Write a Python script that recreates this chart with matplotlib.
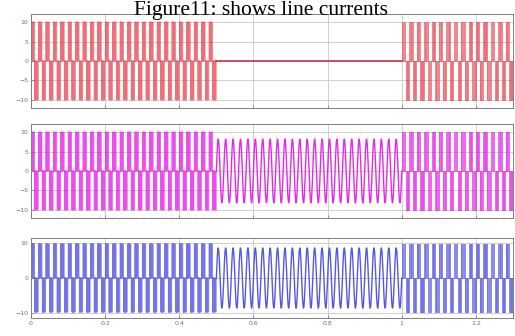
import numpy as np
import matplotlib.pyplot as plt

f0 = 50.0                      # supply frequency, Hz
T = 1.0 / f0
seg_edges = [0.0, 0.5, 1.0, 1.3]   # s, boundaries of the three operating intervals

# peak line current in each interval (A) and the kind of waveform
ia_peak = [10.0, 0.0, 10.0]
ib_peak = [10.0, 8.2, 10.0]
ic_peak = [9.6, 8.5, 9.6]
ia_kind = ['pwm', 'off', 'pwm']
ib_kind = ['pwm', 'sine', 'pwm']
ic_kind = ['pwm', 'sine', 'pwm']

# switching instants inside the positive half period (fraction of a period)
pulse_on = [0.02, 0.065, 0.095, 0.13, 0.18, 0.26, 0.34]
pulse_off = [0.05, 0.085, 0.115, 0.165, 0.23, 0.31, 0.47]

# one period of the sinusoidal current, 20 samples
sine_cycle = [0.0, 0.31, 0.59, 0.81, 0.95, 1.0, 0.95, 0.81, 0.59, 0.31,
              0.0, -0.31, -0.59, -0.81, -0.95, -1.0, -0.95, -0.81, -0.59, -0.31]

xticks = [0, 0.2, 0.4, 0.6, 0.8, 1.0, 1.2]
yticks_ab = [-10, -5, 0, 5, 10]
yticks_c = [-10, 0, 10]


def segment(kind, amp, t0, t1):
    ts, vs = [], []
    ncyc = int(np.ceil((t1 - t0) / T))
    for k in range(ncyc):
        base = t0 + k * T
        if kind == 'pwm':
            for half, sgn in ((0.0, 1), (0.5, -1)):
                for a, b in zip(pulse_on, pulse_off):
                    ta, tb = base + (half + a) * T, base + (half + b) * T
                    ts += [ta, ta, tb, tb]
                    vs += [0, sgn * amp, sgn * amp, 0]
        elif kind == 'sine':
            n = len(sine_cycle)
            for i, v in enumerate(sine_cycle):
                ts.append(base + i * T / n)
                vs.append(amp * v)
        else:
            ts += [base, base + T]
            vs += [0, 0]
    ts, vs = np.array(ts), np.array(vs)
    keep = ts <= t1
    ts = np.append(ts[keep], t1)
    vs = np.append(vs[keep], 0.0)
    return ts, vs


fig = plt.figure(figsize=(5.15, 3.36), dpi=100)
W, H = 515.0, 336.0
boxes = [(31, 14, 513, 108), (31, 124, 513, 218), (31, 238, 513, 318)]
series = [(ia_kind, ia_peak, '#e6404c', yticks_ab, 12.1),
          (ib_kind, ib_peak, '#e214e2', yticks_ab, 12.1),
          (ic_kind, ic_peak, '#4646dc', yticks_c, 11.3)]

for (x0, y0, x1, y1), (kinds, peaks, col, yt, ylim) in zip(boxes, series):
    ax = fig.add_axes([x0 / W, 1 - y1 / H, (x1 - x0) / W, (y1 - y0) / H])
    for i, (k, a) in enumerate(zip(kinds, peaks)):
        t, v = segment(k, a, seg_edges[i], seg_edges[i + 1])
        if k == 'pwm':
            ax.plot(t, v, color=col, lw=0.6, alpha=0.75)
        elif k == 'sine':
            ax.plot(t, v, color=col, lw=1.0, alpha=0.9)
        else:
            ax.plot(t, v, color='#c83246', lw=1.2)
    ax.set_xlim(0, 1.3)
    ax.set_ylim(-ylim, ylim)
    ax.set_xticks(xticks)
    ax.set_yticks(yt)
    ax.grid(True, color='#c8c8c8', lw=0.6)
    ax.set_axisbelow(True)
    ax.tick_params(labelsize=4.5, colors='#707070', length=2, width=0.5,
                   direction='in', pad=2)
    for s in ax.spines.values():
        s.set_color('#808080')
        s.set_linewidth(0.7)
    if y1 == 318:
        ax.set_xticklabels(['%g' % x for x in xticks])
    else:
        ax.set_xticklabels([])

fig.text(0.507, 1 - 14.5 / H, 'Figure11: shows line currents', ha='center',
         va='baseline', fontsize=15.5, family=['Liberation Serif', 'DejaVu Serif'])

fig.savefig('out.png', dpi=100)
